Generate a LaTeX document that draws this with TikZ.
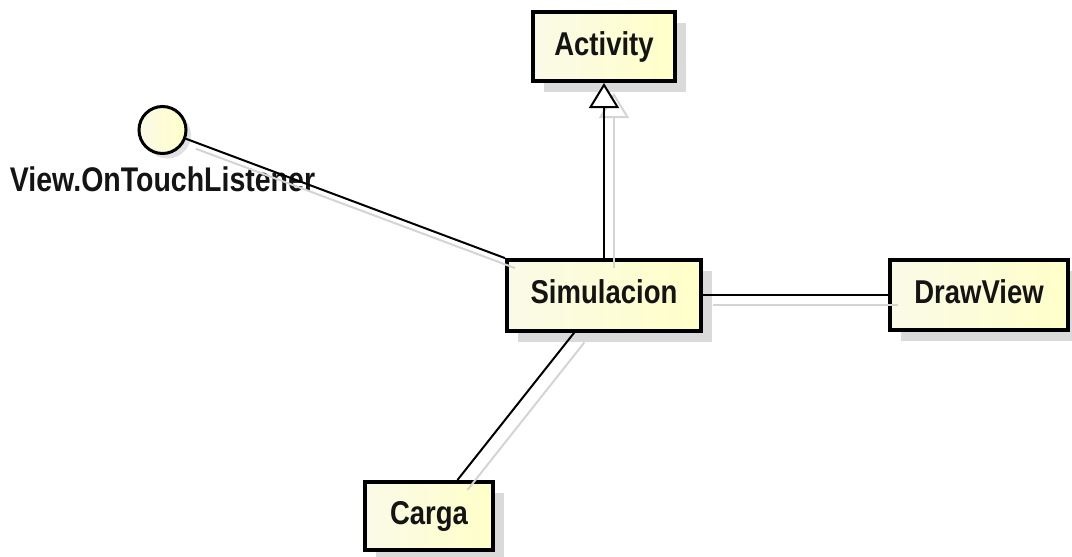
\documentclass[tikz,border=0pt]{standalone}
\usepackage{fontspec}
\setmainfont{Liberation Sans}
\usetikzlibrary{arrows.meta,shadows}

\definecolor{clsleft}{RGB}{250,250,232}
\definecolor{clsright}{RGB}{255,255,200}
\definecolor{boxshade}{RGB}{218,218,218}
\definecolor{lineshade}{RGB}{212,212,212}
\definecolor{inktext}{RGB}{20,20,20}

% tall bold lettering used for all names
\newcommand{\umlname}[1]{\scalebox{1}[1.2]{#1}}

\begin{document}
\begin{tikzpicture}[x=1pt,y=-1pt,
  umlclass/.style={draw=black, line width=4pt, rectangle, inner sep=0pt,
    left color=clsleft, right color=clsright,
    font=\fontsize{27.5}{30}\selectfont\bfseries, text=inktext,
    text height=23pt, text depth=6pt,
    drop shadow={shadow xshift=11pt, shadow yshift=-11pt, fill=boxshade, opacity=1}},
  lollipop/.style={draw=black, line width=3pt, circle, inner sep=0pt,
    minimum size=47pt, left color=clsleft, right color=clsright,
    drop shadow={shadow xshift=5pt, shadow yshift=-5pt, fill=boxshade, opacity=0.8}},
  ifacelabel/.style={font=\fontsize{28.5}{30}\selectfont\bfseries, text=inktext, inner sep=0pt},
  assoc/.style={draw=black, line width=2pt},
  assocshade/.style={draw=lineshade, line width=2pt,
    transform canvas={xshift=10pt, yshift=-10pt}},
  genhead/.style={-{Triangle[open, fill=white, length=25pt, width=30pt]}}
]
\useasboundingbox (0,0) rectangle (1072,557);

% classes
\node[umlclass, minimum width=142pt, minimum height=69pt] (act) at (604,46.5) {\umlname{Activity}};
\node[umlclass, minimum width=194pt, minimum height=71pt] (sim) at (604,295) {\umlname{Simulacion}};
\node[umlclass, minimum width=178pt, minimum height=70pt] (dv) at (979,295) {\umlname{DrawView}};
\node[umlclass, minimum width=128pt, minimum height=68pt] (car) at (429,516) {\umlname{Carga}};

% provided interface (lollipop)
\node[lollipop] (lis) at (162.5,130) {};
\node[ifacelabel, anchor=base] (lislbl) at (162.5,191) {\umlname{View.OnTouchListener}};

% connector shadows
\draw[assocshade] (lis) -- (sim);
\draw[assocshade] (sim) -- (dv);
\draw[assocshade] (sim) -- (car);
\draw[assocshade, genhead] (sim) -- (act);

% connectors
\draw[assoc] (lis) -- (sim);
\draw[assoc] (sim) -- (dv);
\draw[assoc] (sim) -- (car);
\draw[assoc, genhead] (sim) -- (act);
\end{tikzpicture}
\end{document}
